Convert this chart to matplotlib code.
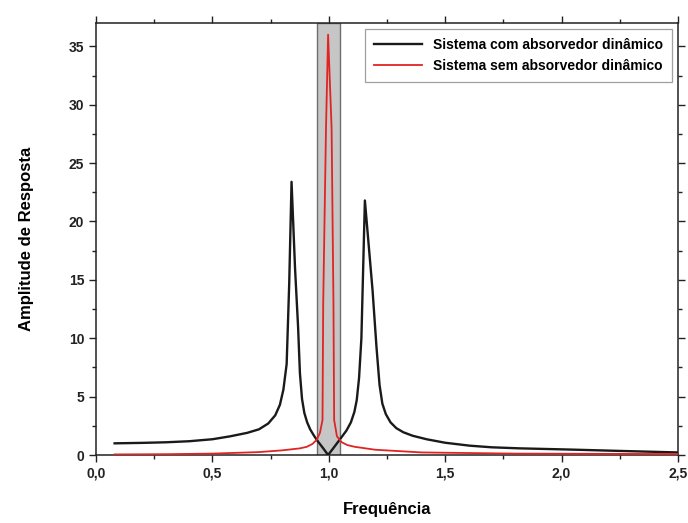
import matplotlib.pyplot as plt
from matplotlib.ticker import MultipleLocator, FuncFormatter

plt.rcParams['font.family'] = ['Liberation Sans', 'DejaVu Sans']
plt.rcParams['font.weight'] = 'bold'

# frequency ratio and response amplitude, with absorber
freq_com = [0.08, 0.2, 0.3, 0.4, 0.5, 0.576, 0.65, 0.7, 0.74, 0.77, 0.79,
            0.805, 0.819, 0.83, 0.840, 0.855, 0.868, 0.876, 0.885, 0.895,
            0.907, 0.92, 0.935, 0.95, 0.975, 0.997, 1.02, 1.05, 1.076, 1.095,
            1.11, 1.12, 1.13, 1.14, 1.155, 1.188, 1.205, 1.218, 1.23, 1.245,
            1.265, 1.29, 1.32, 1.36, 1.42, 1.5, 1.605, 1.7, 1.82, 2.03, 2.25,
            2.5]
amp_com = [1.00, 1.04, 1.09, 1.18, 1.35, 1.6, 1.9, 2.2, 2.7, 3.4, 4.3,
           5.6, 7.8, 14.7, 23.4, 16.0, 11.0, 7.0, 4.8, 3.6,
           2.8, 2.2, 1.7, 1.25, 0.6, 0.0, 0.6, 1.4, 2.1, 2.8,
           3.7, 4.7, 6.6, 10.0, 21.8, 14.1, 9.2, 6.0, 4.4, 3.5,
           2.8, 2.3, 1.95, 1.65, 1.35, 1.05, 0.8, 0.66, 0.57, 0.47, 0.35,
           0.22]

# without absorber
freq_sem = [0.08, 0.3, 0.5, 0.7, 0.8, 0.876, 0.905, 0.93, 0.948, 0.962,
            0.973, 0.976, 0.988, 0.997, 1.012, 1.02, 1.023, 1.035, 1.055,
            1.08, 1.112, 1.2, 1.4, 1.8, 2.5]
amp_sem = [0.05, 0.07, 0.12, 0.25, 0.4, 0.57, 0.7, 0.95, 1.3, 1.9,
           3.0, 13.0, 28.0, 36.0, 28.0, 13.0, 3.0, 1.6, 1.1,
           0.85, 0.7, 0.45, 0.22, 0.12, 0.08]

faixa = (0.95, 1.05)

fig = plt.figure(figsize=(6.88, 5.23), dpi=100)
ax = fig.add_axes([0.1395, 0.130, 0.846, 0.826])

ax.axvspan(faixa[0], faixa[1], facecolor='#c6c6c6', edgecolor='#6e6e6e',
           linewidth=1.0, zorder=1)
ax.plot(freq_com, amp_com, color='#1a1a1a', linewidth=1.7, zorder=3,
        label='Sistema com absorvedor dinâmico')
ax.plot(freq_sem, amp_sem, color='#e02424', linewidth=1.3, zorder=4,
        label='Sistema sem absorvedor dinâmico')

ax.set_xlim(0, 2.5)
ax.set_ylim(0, 37.0)
ax.xaxis.set_major_locator(MultipleLocator(0.5))
ax.xaxis.set_minor_locator(MultipleLocator(0.25))
ax.yaxis.set_major_locator(MultipleLocator(5))
ax.yaxis.set_minor_locator(MultipleLocator(2.5))
ax.xaxis.set_major_formatter(FuncFormatter(lambda v, p: f'{v:.1f}'.replace('.', ',')))

ax.tick_params(which='both', direction='out', top=True, right=True,
               labelsize=10, colors='#222222', width=1.0)
ax.tick_params(which='major', length=5)
ax.tick_params(which='minor', length=3)
for s in ax.spines.values():
    s.set_linewidth(1.1)
    s.set_color('#222222')

ax.set_xlabel('Frequência', fontsize=12, fontweight='bold', labelpad=15)
ax.set_ylabel('Amplitude de Resposta', fontsize=12, fontweight='bold', labelpad=25)

leg = ax.legend(loc='upper right', fontsize=10, frameon=True, fancybox=False,
                edgecolor='#888888', borderaxespad=0.4, handlelength=3.4,
                borderpad=0.7, labelspacing=0.45)
leg.get_frame().set_linewidth(0.9)

fig.savefig('out.png', dpi=100)
